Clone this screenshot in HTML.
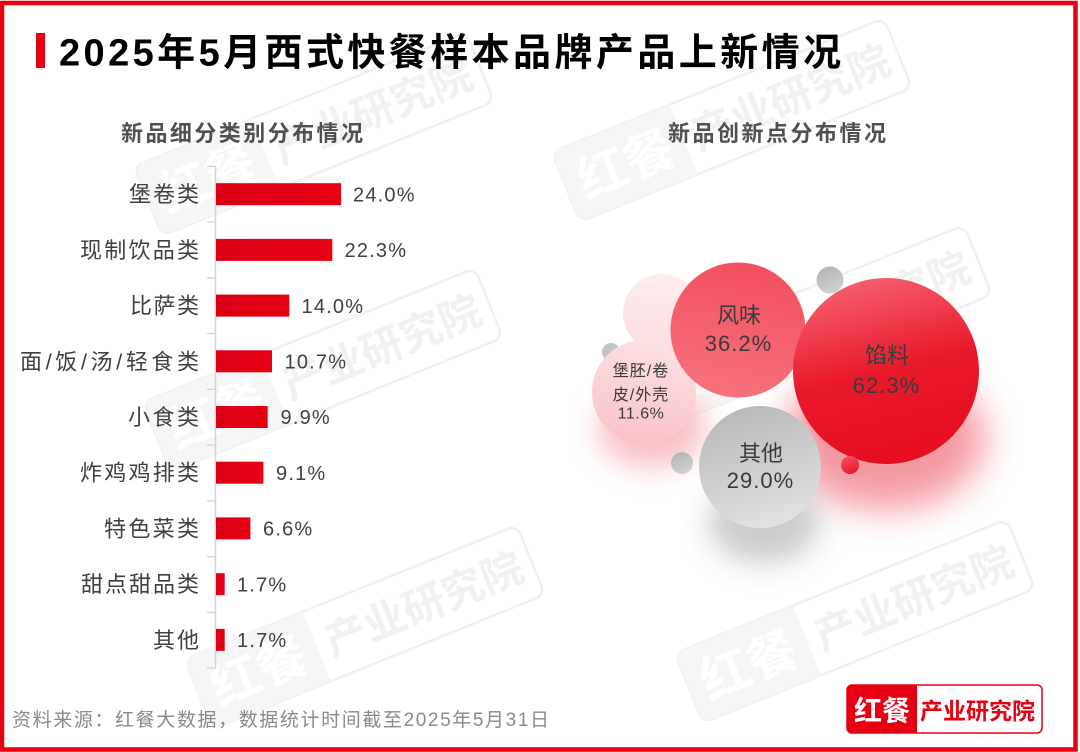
<!DOCTYPE html>
<html>
<head>
<meta charset="utf-8">
<style>
  html,body{margin:0;padding:0;background:#fff;}
  body{width:1080px;height:752px;overflow:hidden;}
  svg{display:block;}
  text{font-family:"Liberation Sans","Noto Sans CJK SC",sans-serif;}
</style>
</head>
<body>
<svg width="1080" height="752" viewBox="0 0 1080 752" xmlns="http://www.w3.org/2000/svg">
  <defs>
    <linearGradient id="gBig" x1="0.35" y1="0" x2="0.6" y2="1">
      <stop offset="0" stop-color="#f6606e"/>
      <stop offset="0.5" stop-color="#e9192b"/>
      <stop offset="1" stop-color="#e40d1e"/>
    </linearGradient>
    <linearGradient id="gFeng" x1="0.5" y1="0" x2="0.3" y2="1">
      <stop offset="0" stop-color="#f44858"/>
      <stop offset="1" stop-color="#f66d79"/>
    </linearGradient>
    <linearGradient id="gPink" x1="0.6" y1="0" x2="0.4" y2="1">
      <stop offset="0" stop-color="#fde0e3"/>
      <stop offset="1" stop-color="#f9c3c8"/>
    </linearGradient>
    <linearGradient id="gFaint" x1="0" y1="0" x2="0" y2="1">
      <stop offset="0" stop-color="#feecee"/>
      <stop offset="1" stop-color="#fcdde0"/>
    </linearGradient>
    <linearGradient id="gGray" x1="0.3" y1="0" x2="0.6" y2="1">
      <stop offset="0" stop-color="#b8b8b8"/>
      <stop offset="1" stop-color="#e2e2e2"/>
    </linearGradient>
    <linearGradient id="gGraySm" x1="0.3" y1="0" x2="0.7" y2="1">
      <stop offset="0" stop-color="#b4b4b4"/>
      <stop offset="1" stop-color="#d2d2d2"/>
    </linearGradient>
    <linearGradient id="gRedSm" x1="0.3" y1="0" x2="0.7" y2="1">
      <stop offset="0" stop-color="#f4505e"/>
      <stop offset="1" stop-color="#e8172a"/>
    </linearGradient>
    <linearGradient id="gBar" x1="0" y1="0" x2="1" y2="0">
      <stop offset="0" stop-color="#db0016"/>
      <stop offset="1" stop-color="#e60012"/>
    </linearGradient>
    <filter id="blur18" x="-80%" y="-80%" width="260%" height="260%">
      <feGaussianBlur stdDeviation="18"/>
    </filter>
    <filter id="blur14" x="-80%" y="-80%" width="260%" height="260%">
      <feGaussianBlur stdDeviation="14"/>
    </filter>
  </defs>

  <rect x="0" y="0" width="1080" height="752" fill="#ffffff"/>

  <!-- Watermarks -->
  <g transform="translate(314,134) rotate(-22)">
    <rect x="-179" y="-37.5" width="358" height="75" rx="10" fill="none" stroke="#f0f0f0" stroke-width="2.5"/>
    <path d="M-169,-37.5 H-52 V37.5 H-169 A10,10 0 0 1 -179,27.5 V-27.5 A10,10 0 0 1 -169,-37.5 Z" fill="#f6f6f6"/>
    <text x="-115" y="19" font-size="50" text-anchor="middle" fill="#ffffff" font-weight="bold">红餐</text>
    <text x="63" y="16" font-size="42" text-anchor="middle" fill="#f1f1f1" font-weight="bold">产业研究院</text>
  </g>
  <g transform="translate(732,120) rotate(-22)">
    <rect x="-179" y="-37.5" width="358" height="75" rx="10" fill="none" stroke="#f0f0f0" stroke-width="2.5"/>
    <path d="M-169,-37.5 H-52 V37.5 H-169 A10,10 0 0 1 -179,27.5 V-27.5 A10,10 0 0 1 -169,-37.5 Z" fill="#f6f6f6"/>
    <text x="-115" y="19" font-size="50" text-anchor="middle" fill="#ffffff" font-weight="bold">红餐</text>
    <text x="63" y="16" font-size="42" text-anchor="middle" fill="#f1f1f1" font-weight="bold">产业研究院</text>
  </g>
  <g transform="translate(812,327) rotate(-22)">
    <rect x="-179" y="-37.5" width="358" height="75" rx="10" fill="none" stroke="#f0f0f0" stroke-width="2.5"/>
    <path d="M-169,-37.5 H-52 V37.5 H-169 A10,10 0 0 1 -179,27.5 V-27.5 A10,10 0 0 1 -169,-37.5 Z" fill="#f6f6f6"/>
    <text x="-115" y="19" font-size="50" text-anchor="middle" fill="#ffffff" font-weight="bold">红餐</text>
    <text x="63" y="16" font-size="42" text-anchor="middle" fill="#f1f1f1" font-weight="bold">产业研究院</text>
  </g>
  <g transform="translate(323,370) rotate(-22)">
    <rect x="-179" y="-37.5" width="358" height="75" rx="10" fill="none" stroke="#f0f0f0" stroke-width="2.5"/>
    <path d="M-169,-37.5 H-52 V37.5 H-169 A10,10 0 0 1 -179,27.5 V-27.5 A10,10 0 0 1 -169,-37.5 Z" fill="#f6f6f6"/>
    <text x="-115" y="19" font-size="50" text-anchor="middle" fill="#ffffff" font-weight="bold">红餐</text>
    <text x="63" y="16" font-size="42" text-anchor="middle" fill="#f1f1f1" font-weight="bold">产业研究院</text>
  </g>
  <g transform="translate(365,627) rotate(-22)">
    <rect x="-179" y="-37.5" width="358" height="75" rx="10" fill="none" stroke="#f0f0f0" stroke-width="2.5"/>
    <path d="M-169,-37.5 H-52 V37.5 H-169 A10,10 0 0 1 -179,27.5 V-27.5 A10,10 0 0 1 -169,-37.5 Z" fill="#f6f6f6"/>
    <text x="-115" y="19" font-size="50" text-anchor="middle" fill="#ffffff" font-weight="bold">红餐</text>
    <text x="63" y="16" font-size="42" text-anchor="middle" fill="#f1f1f1" font-weight="bold">产业研究院</text>
  </g>
  <g transform="translate(855,621) rotate(-22)">
    <rect x="-179" y="-37.5" width="358" height="75" rx="10" fill="none" stroke="#f0f0f0" stroke-width="2.5"/>
    <path d="M-169,-37.5 H-52 V37.5 H-169 A10,10 0 0 1 -179,27.5 V-27.5 A10,10 0 0 1 -169,-37.5 Z" fill="#f6f6f6"/>
    <text x="-115" y="19" font-size="50" text-anchor="middle" fill="#ffffff" font-weight="bold">红餐</text>
    <text x="63" y="16" font-size="42" text-anchor="middle" fill="#f1f1f1" font-weight="bold">产业研究院</text>
  </g>

  <!-- Title -->
  <rect x="36" y="33" width="9" height="35" fill="#e60012"/>
  <text x="59" y="65.5" font-size="38" font-weight="bold" fill="#000000" textLength="782" lengthAdjust="spacing">2025年5月西式快餐样本品牌产品上新情况</text>

  <!-- Subtitles -->
  <text x="121" y="141" font-size="22" font-weight="bold" fill="#505050" textLength="242" lengthAdjust="spacing">新品细分类别分布情况</text>
  <text x="668" y="141" font-size="22" font-weight="bold" fill="#505050" textLength="218" lengthAdjust="spacing">新品创新点分布情况</text>

  <!-- Bar chart axis -->
  <line x1="215.5" y1="166" x2="215.5" y2="668" stroke="#d2d2d2" stroke-width="1.5"/>
  <g stroke="#d2d2d2" stroke-width="1.3">
    <line x1="207" y1="166.3" x2="215.5" y2="166.3"/>
    <line x1="207" y1="222" x2="215.5" y2="222"/>
    <line x1="207" y1="277.8" x2="215.5" y2="277.8"/>
    <line x1="207" y1="333.6" x2="215.5" y2="333.6"/>
    <line x1="207" y1="389.4" x2="215.5" y2="389.4"/>
    <line x1="207" y1="445.1" x2="215.5" y2="445.1"/>
    <line x1="207" y1="500.9" x2="215.5" y2="500.9"/>
    <line x1="207" y1="556.7" x2="215.5" y2="556.7"/>
    <line x1="207" y1="612.4" x2="215.5" y2="612.4"/>
    <line x1="207" y1="668" x2="215.5" y2="668"/>
  </g>

  <!-- Bars -->
  <g fill="url(#gBar)">
    <rect x="216" y="183.2" width="125" height="22"/>
    <rect x="216" y="238.9" width="116.3" height="22"/>
    <rect x="216" y="294.6" width="73.3" height="22"/>
    <rect x="216" y="350.3" width="56" height="22"/>
    <rect x="216" y="406" width="51.7" height="22"/>
    <rect x="216" y="461.7" width="47.4" height="22"/>
    <rect x="216" y="517.4" width="34.4" height="22"/>
    <rect x="216" y="573.2" width="8.7" height="22"/>
    <rect x="216" y="628.9" width="8.7" height="22"/>
  </g>

  <!-- Category labels -->
  <g font-size="22" fill="#404040">
    <text x="129" y="202.2" textLength="70" lengthAdjust="spacing">堡卷类</text>
    <text x="80" y="257.9" textLength="119" lengthAdjust="spacing">现制饮品类</text>
    <text x="130" y="313.6" textLength="69" lengthAdjust="spacing">比萨类</text>
    <text x="20" y="369.3" textLength="179" lengthAdjust="spacing">面/饭/汤/轻食类</text>
    <text x="128" y="425" textLength="71" lengthAdjust="spacing">小食类</text>
    <text x="80" y="480.7" textLength="119" lengthAdjust="spacing">炸鸡鸡排类</text>
    <text x="104" y="536.4" textLength="95" lengthAdjust="spacing">特色菜类</text>
    <text x="81" y="592.2" textLength="118" lengthAdjust="spacing">甜点甜品类</text>
    <text x="153" y="647.9" textLength="46" lengthAdjust="spacing">其他</text>
  </g>

  <!-- Value labels -->
  <g font-size="20" fill="#404040" letter-spacing="1.2">
    <text x="353" y="201.4">24.0%</text>
    <text x="344.5" y="257.1">22.3%</text>
    <text x="301.5" y="312.8">14.0%</text>
    <text x="284.5" y="368.5">10.7%</text>
    <text x="280.5" y="424.2">9.9%</text>
    <text x="276" y="479.9">9.1%</text>
    <text x="263" y="535.6">6.6%</text>
    <text x="237" y="591.4">1.7%</text>
    <text x="237" y="647.1">1.7%</text>
  </g>

  <!-- Bubble shadows -->
  <ellipse cx="885" cy="438" rx="100" ry="72" fill="#f07782" opacity="0.75" filter="url(#blur18)"/>
  <ellipse cx="652" cy="428" rx="55" ry="40" fill="#f7b1b8" opacity="0.8" filter="url(#blur14)"/>
  <ellipse cx="764" cy="522" rx="56" ry="42" fill="#c4c4c4" opacity="0.85" filter="url(#blur14)"/>

  <!-- Bubbles -->
  <circle cx="662" cy="313" r="39" fill="url(#gFaint)"/>
  <circle cx="611" cy="352" r="9" fill="#c4c4c4"/>
  <circle cx="644" cy="392" r="52" fill="url(#gPink)"/>
  <circle cx="738" cy="330" r="67.5" fill="url(#gFeng)" opacity="0.96"/>
  <circle cx="830" cy="280" r="13.5" fill="url(#gGraySm)"/>
  <circle cx="886" cy="371" r="93" fill="url(#gBig)"/>
  <circle cx="760" cy="467" r="61" fill="url(#gGray)"/>
  <circle cx="682" cy="463" r="11" fill="url(#gGraySm)"/>
  <circle cx="850" cy="465" r="9" fill="url(#gRedSm)"/>

  <!-- Bubble labels -->
  <g fill="#3a3a3a" text-anchor="middle">
    <text x="739" y="323" font-size="22">风味</text>
    <text x="738.5" y="351" font-size="22" letter-spacing="1">36.2%</text>
    <text x="887" y="363" font-size="22">馅料</text>
    <text x="886.5" y="393" font-size="22" letter-spacing="1">62.3%</text>
    <text x="761" y="461" font-size="22">其他</text>
    <text x="760.5" y="488" font-size="22" letter-spacing="1">29.0%</text>
    <text x="641" y="376" font-size="16" letter-spacing="1">堡胚/卷</text>
    <text x="641" y="400" font-size="16" letter-spacing="1">皮/外壳</text>
    <text x="641" y="418.5" font-size="16" letter-spacing="0.5">11.6%</text>
  </g>

  <!-- Footer -->
  <text x="12" y="726" font-size="19" fill="#8a8a8a" textLength="537" lengthAdjust="spacing">资料来源：红餐大数据，数据统计时间截至2025年5月31日</text>

  <!-- Logo -->
  <rect x="847" y="685" width="195" height="48" rx="5" fill="#ffffff" stroke="#e60012" stroke-width="1.5"/>
  <path d="M852,685 H917 V733 H852 A5,5 0 0 1 847,728 V690 A5,5 0 0 1 852,685 Z" fill="#e60012"/>
  <text x="882" y="720.5" font-size="28" font-weight="bold" fill="#ffffff" text-anchor="middle">红餐</text>
  <text x="920" y="719" font-size="23" font-weight="bold" fill="#e60012" textLength="115" lengthAdjust="spacing">产业研究院</text>

  <!-- Outer border -->
  <rect x="2" y="3" width="1073.5" height="746.5" fill="none" stroke="#e60012" stroke-width="4.5"/>
</svg>
</body>
</html>
